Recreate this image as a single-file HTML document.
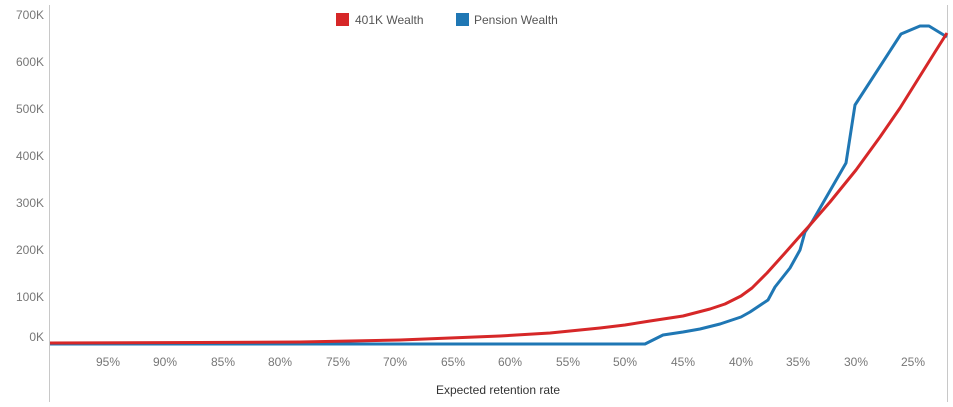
<!DOCTYPE html>
<html><head><meta charset="utf-8"><style>
body{margin:0;background:#fff;}
svg{display:block;font-family:"Liberation Sans",sans-serif;}
</style></head><body>
<svg width="953" height="407" viewBox="0 0 953 407" xmlns="http://www.w3.org/2000/svg">
<rect width="953" height="407" fill="#fff"/>
<line x1="49.5" y1="5" x2="49.5" y2="402" stroke="#c8c8c8" stroke-width="1"/>
<line x1="947.5" y1="5" x2="947.5" y2="402" stroke="#c8c8c8" stroke-width="1"/>
<g font-size="12" fill="#777" text-anchor="end">
<text x="44" y="19">700K</text>
<text x="44" y="66">600K</text>
<text x="44" y="113">500K</text>
<text x="44" y="160">400K</text>
<text x="44" y="207">300K</text>
<text x="44" y="254">200K</text>
<text x="44" y="301">100K</text>
<text x="44" y="341">0K</text>
</g>
<g font-size="12" fill="#777" text-anchor="middle">
<text x="108" y="366">95%</text><text x="165" y="366">90%</text><text x="223" y="366">85%</text>
<text x="280" y="366">80%</text><text x="338" y="366">75%</text><text x="395" y="366">70%</text>
<text x="453" y="366">65%</text><text x="510" y="366">60%</text><text x="568" y="366">55%</text>
<text x="625" y="366">50%</text><text x="683" y="366">45%</text><text x="741" y="366">40%</text>
<text x="798" y="366">35%</text><text x="856" y="366">30%</text><text x="913" y="366">25%</text>
</g>
<text x="498" y="394" font-size="12" fill="#333" text-anchor="middle">Expected retention rate</text>
<rect x="336" y="13" width="13" height="13" fill="#d62728"/>
<text x="355" y="24" font-size="12" fill="#555">401K Wealth</text>
<rect x="456" y="13" width="13" height="13" fill="#1f77b4"/>
<text x="474" y="24" font-size="12" fill="#555">Pension Wealth</text>
<polyline fill="none" stroke="#1f77b4" stroke-width="3" stroke-linejoin="round"
points="50,344 645,344 663,335 683,332 700,329 720,324 741,317 750,312 768,300 775,287 790,268 800,250 805,232 812,222 846,163 855,105 901,34 920,26 929,26 947,37"/>
<polyline fill="none" stroke="#d62728" stroke-width="3" stroke-linejoin="round"
points="50,343 200,342.5 300,342 400,340 500,336 550,333 600,328 625,325 650,321 683,316 710,309 725,304 741,296 752,288 767,273 785,253 800,236 810,225 830,202 856,170 880,137 900,108 920,76 935,52 947,33"/>
</svg>
</body></html>
